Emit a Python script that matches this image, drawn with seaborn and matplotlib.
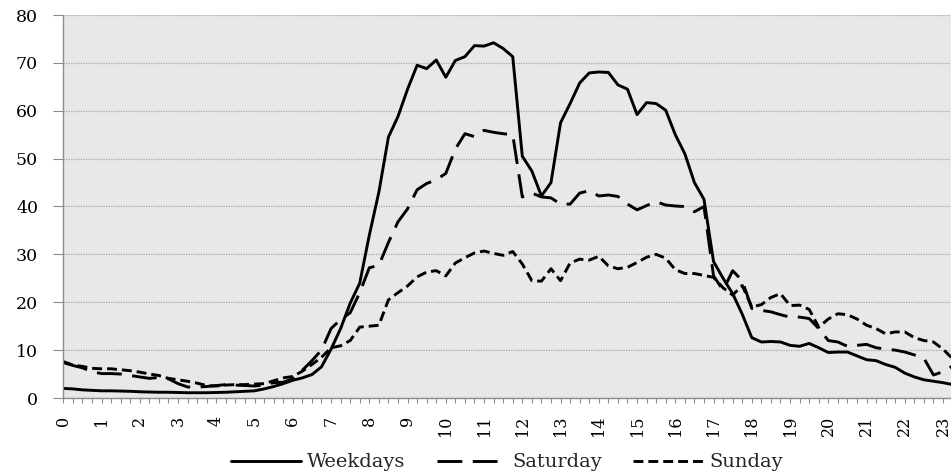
import numpy as np
import pandas as pd
import matplotlib
matplotlib.use("Agg")
import matplotlib.pyplot as plt
from matplotlib.ticker import MultipleLocator
import seaborn as sns

# 15-minute slots, 0:00 .. 23:45
slots_per_hour = 4
hour_labels = [str(h) for h in range(24)]

weekdays = [2.0, 1.9, 1.7, 1.6, 1.5, 1.5, 1.45, 1.4, 1.3, 1.25, 1.2, 1.2,
            1.15, 1.1, 1.1, 1.1, 1.15, 1.2, 1.3, 1.4, 1.5, 1.9, 2.4, 3.0,
            3.7, 4.2, 4.9, 6.5, 10.2, 14.5, 19.8, 24.0, 34.0, 43.0, 54.5, 58.8,
            64.5, 69.5, 68.8, 70.6, 67.0, 70.5, 71.3, 73.6, 73.5, 74.2, 73.0, 71.3,
            50.5, 47.4, 42.2, 45.0, 57.5, 61.5, 65.8, 67.9, 68.1, 68.0, 65.4, 64.5,
            59.2, 61.7, 61.5, 60.1, 55.0, 51.0, 45.0, 41.5, 28.5, 25.0, 21.8, 17.5,
            12.6, 11.7, 11.8, 11.7, 11.0, 10.8, 11.4, 10.5, 9.5, 9.6, 9.6, 8.8,
            8.0, 7.8, 7.0, 6.4, 5.2, 4.4, 3.8, 3.5, 3.2, 2.8, 2.5, 2.2]

saturday = [7.4, 6.8, 6.3, 5.5, 5.1, 5.1, 5.0, 4.7, 4.4, 4.1, 4.3, 4.0,
            3.0, 2.3, 2.3, 2.4, 2.6, 2.8, 2.7, 2.6, 2.5, 2.7, 3.2, 3.3,
            4.0, 5.8, 7.8, 10.0, 14.5, 16.4, 17.8, 22.0, 27.2, 27.7, 32.5, 36.8,
            39.5, 43.5, 44.8, 45.6, 46.9, 52.0, 55.2, 54.6, 55.9, 55.5, 55.2, 55.0,
            42.0, 42.8, 42.0, 41.8, 40.5, 40.5, 42.8, 43.3, 42.2, 42.4, 42.1, 40.5,
            39.3, 40.2, 41.0, 40.3, 40.1, 40.0, 38.9, 40.0, 25.5, 22.5, 26.6, 24.5,
            18.7, 18.3, 18.0, 17.4, 16.9, 16.9, 16.6, 14.5, 12.0, 11.7, 10.8, 11.0,
            11.2, 10.5, 10.2, 10.0, 9.6, 9.0, 8.3, 4.8, 5.5, 6.7, 7.0, 7.0]

sunday = [7.6, 6.9, 6.6, 6.2, 6.1, 6.1, 5.9, 5.7, 5.4, 5.0, 4.7, 4.1,
          3.8, 3.5, 3.1, 2.6, 2.5, 2.7, 2.8, 2.8, 2.9, 3.0, 3.6, 4.2,
          4.5, 5.6, 7.0, 8.5, 10.5, 10.9, 12.0, 14.8, 15.0, 15.2, 20.5, 22.0,
          23.4, 25.3, 26.3, 26.6, 25.5, 28.2, 29.3, 30.3, 30.7, 30.2, 29.8, 30.6,
          28.0, 24.5, 24.4, 27.0, 24.5, 28.2, 29.0, 28.8, 29.6, 27.6, 27.0, 27.3,
          28.3, 29.4, 30.0, 29.2, 26.8, 26.0, 26.0, 25.6, 25.2, 23.0, 21.5, 23.5,
          19.0, 19.5, 21.0, 21.8, 19.3, 19.4, 18.5, 14.8, 16.5, 17.6, 17.4, 16.5,
          15.2, 14.5, 13.4, 13.8, 13.8, 12.6, 12.0, 11.7, 10.2, 8.2, 7.5, 7.0]

series_names = ["Weekdays", "Saturday", "Sunday"]

hours = np.arange(len(weekdays)) / slots_per_hour
df = pd.DataFrame({
    "hour": np.tile(hours, 3),
    "value": weekdays + saturday + sunday,
    "series": np.repeat(series_names, len(weekdays)),
})

sns.set_theme(style="white")
plt.rcParams["font.family"] = ["DejaVu Serif"]

fig = plt.figure(figsize=(9.51, 4.73), dpi=100)
ax = fig.add_axes([63.3 / 951, 1 - 398 / 473, 1 - 63.3 / 951, (398 - 15) / 473])
ax.set_facecolor("#e8e8e8")

styles = {
    "Weekdays": "-",
    "Saturday": (0, (8.5, 3.6)),
    "Sunday": (0, (3.4, 1.7)),
}
for name in series_names:
    sub = df[df["series"] == name]
    sns.lineplot(data=sub, x="hour", y="value", ax=ax, color="black",
                 linewidth=2.1, linestyle=styles[name], label=name,
                 solid_joinstyle="round", dash_joinstyle="round",
                 dash_capstyle="butt")

ax.set_xlim(0, (951 - 63.3) / 38.25)
ax.set_ylim(0, 80)
ax.set_xlabel("")
ax.set_ylabel("")

ax.yaxis.set_major_locator(MultipleLocator(10))
ax.set_xticks(range(24))
ax.set_xticklabels(hour_labels, rotation=90, va="top", ha="center")
ax.xaxis.set_minor_locator(MultipleLocator(0.25))

ax.yaxis.grid(True, color="#a8a8a8", linestyle=(0, (1, 1)), linewidth=0.9)
ax.xaxis.grid(False)
ax.set_axisbelow(True)

for side in ["top", "right"]:
    ax.spines[side].set_visible(False)
ax.spines["left"].set_color("#8c8c8c")
ax.spines["bottom"].set_color("#8c8c8c")
ax.spines["left"].set_linewidth(1.0)
ax.spines["bottom"].set_linewidth(1.0)

ax.tick_params(axis="y", which="major", direction="out", length=7.2, width=0.8,
               color="#8c8c8c", pad=11, labelsize=12.5, labelcolor="black",
               left=True)
ax.tick_params(axis="x", which="both", direction="out", length=3.6, width=0.8,
               color="#8c8c8c", bottom=True)
ax.tick_params(axis="x", which="major", pad=9, labelsize=11.5, labelcolor="black")

handles, labels = ax.get_legend_handles_labels()
ax.legend(handles, labels, ncol=3, loc="center", frameon=False,
          bbox_to_anchor=(0.5, -0.168), fontsize=14, handlelength=3.6,
          handletextpad=0.3, columnspacing=1.6)

fig.savefig("out.png", dpi=100, facecolor="white")
